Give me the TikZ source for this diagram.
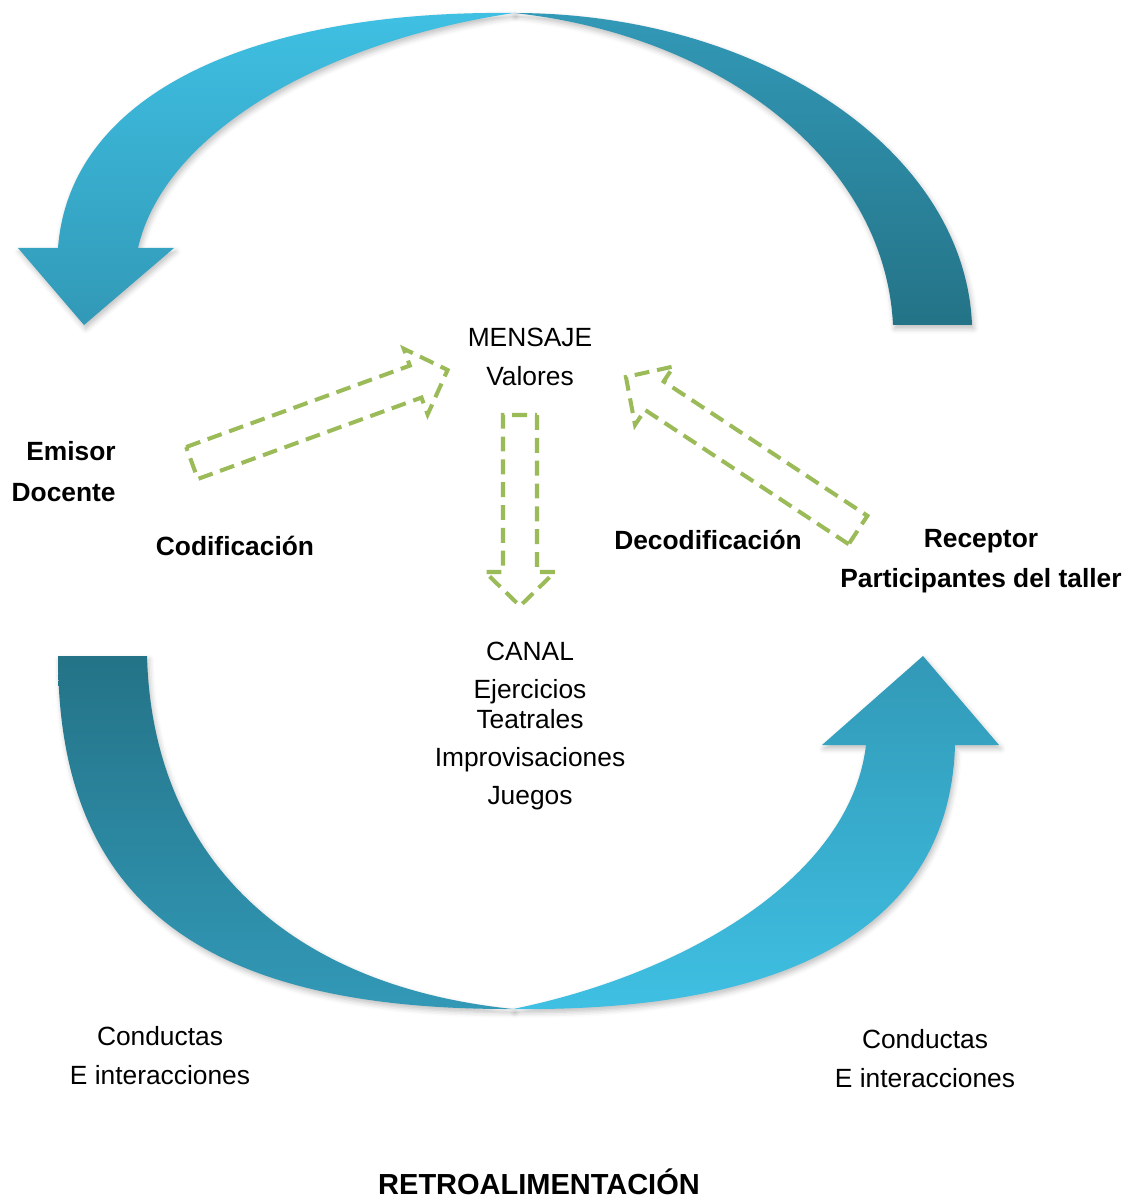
\documentclass[tikz,border=0pt]{standalone}
\usepackage{fontspec}
\setmainfont{Liberation Sans}
\usetikzlibrary{shadows.blur}
\definecolor{verde}{RGB}{155,187,89}
\definecolor{celeste}{RGB}{63,192,227}
\definecolor{azul}{RGB}{50,153,183}
\definecolor{azuloscuro}{RGB}{36,115,135}
% hohle Blockpfeile: x, y, Winkel, Laenge
\newcommand{\flecha}[4]{%
\begin{scope}[shift={(#1,#2)},rotate=#3]
\draw[hueco] (0,-17) -- (#4-34,-17) -- (#4-34,-35) -- (#4,0) -- (#4-34,35) -- (#4-34,17) -- (0,17) -- cycle;
\end{scope}}
\begin{document}
\begin{tikzpicture}[x=0.02cm,y=-0.02cm]
\tikzset{hueco/.style={draw=verde,line width=2.3pt,dash pattern=on 8.5pt off 4.5pt},
sombra/.style={blur shadow={shadow xshift=1pt,shadow yshift=-2pt,shadow opacity=25,shadow blur radius=3pt}},
texto/.style={inner sep=0pt,align=center,font=\fontsize{15}{22.2}\selectfont},
negrita/.style={texto,font=\fontsize{15}{22.8}\selectfont\bfseries}}
\useasboundingbox (0,0) rectangle (1137,1202);
% flecha de arriba
\shade[sombra,top color=azul,bottom color=azuloscuro] (514,13) .. controls (760,13) and (965,150) .. (972,325) -- (893,325) .. controls (885,160) and (720,35) .. (514,13) -- cycle;
\shade[sombra,top color=celeste,bottom color=azul] (514,13) .. controls (260,10) and (70,90) .. (58,248) -- (18,248) -- (84,325) -- (174,248) -- (138,248) .. controls (165,130) and (330,40) .. (514,13) -- cycle;
% flecha de abajo
\shade[sombra,top color=azuloscuro,bottom color=azul] (58,656) .. controls (58,900) and (200,1010) .. (513,1009) .. controls (280,985) and (152,850) .. (147,656) -- cycle;
\shade[sombra,top color=azul,bottom color=celeste] (513,1009) .. controls (800,1012) and (950,920) .. (955,745) -- (999,745) -- (923,656) -- (822,745) -- (866,745) .. controls (850,880) and (680,975) .. (513,1009) -- cycle;
% flechas verdes
\flecha{192}{463}{20}{272}
\flecha{520}{415}{-90}{191}
\flecha{858}{530}{146.6}{278}
% textos
\node [texto] (mensaje) at (530,357) {MENSAJE\\Valores};
\node [texto,font=\fontsize{15}{21.6}\selectfont] (canal) at (530,726) {CANAL\\Ejercicios\\[-4pt]Teatrales\\Improvisaciones\\Juegos};
\node [negrita,align=right,anchor=east,font=\fontsize{15}{23.3}\selectfont\bfseries] (emisor) at (116,472) {Emisor\\Docente};
\node [negrita] (codificacion) at (235,546) {Codificación};
\node [negrita] (decodificacion) at (708,540) {Decodificación};
\node [negrita] (receptor) at (981,561) {Receptor\\Participantes del taller};
\node [texto] (conductas1) at (160,1056) {Conductas\\E interacciones};
\node [texto] (conductas2) at (925,1059) {Conductas\\E interacciones};
\node [negrita,font=\fontsize{16.5}{20}\selectfont\bfseries] (retro) at (539,1182) {RETROALIMENTACIÓN};
\end{tikzpicture}
\end{document}
